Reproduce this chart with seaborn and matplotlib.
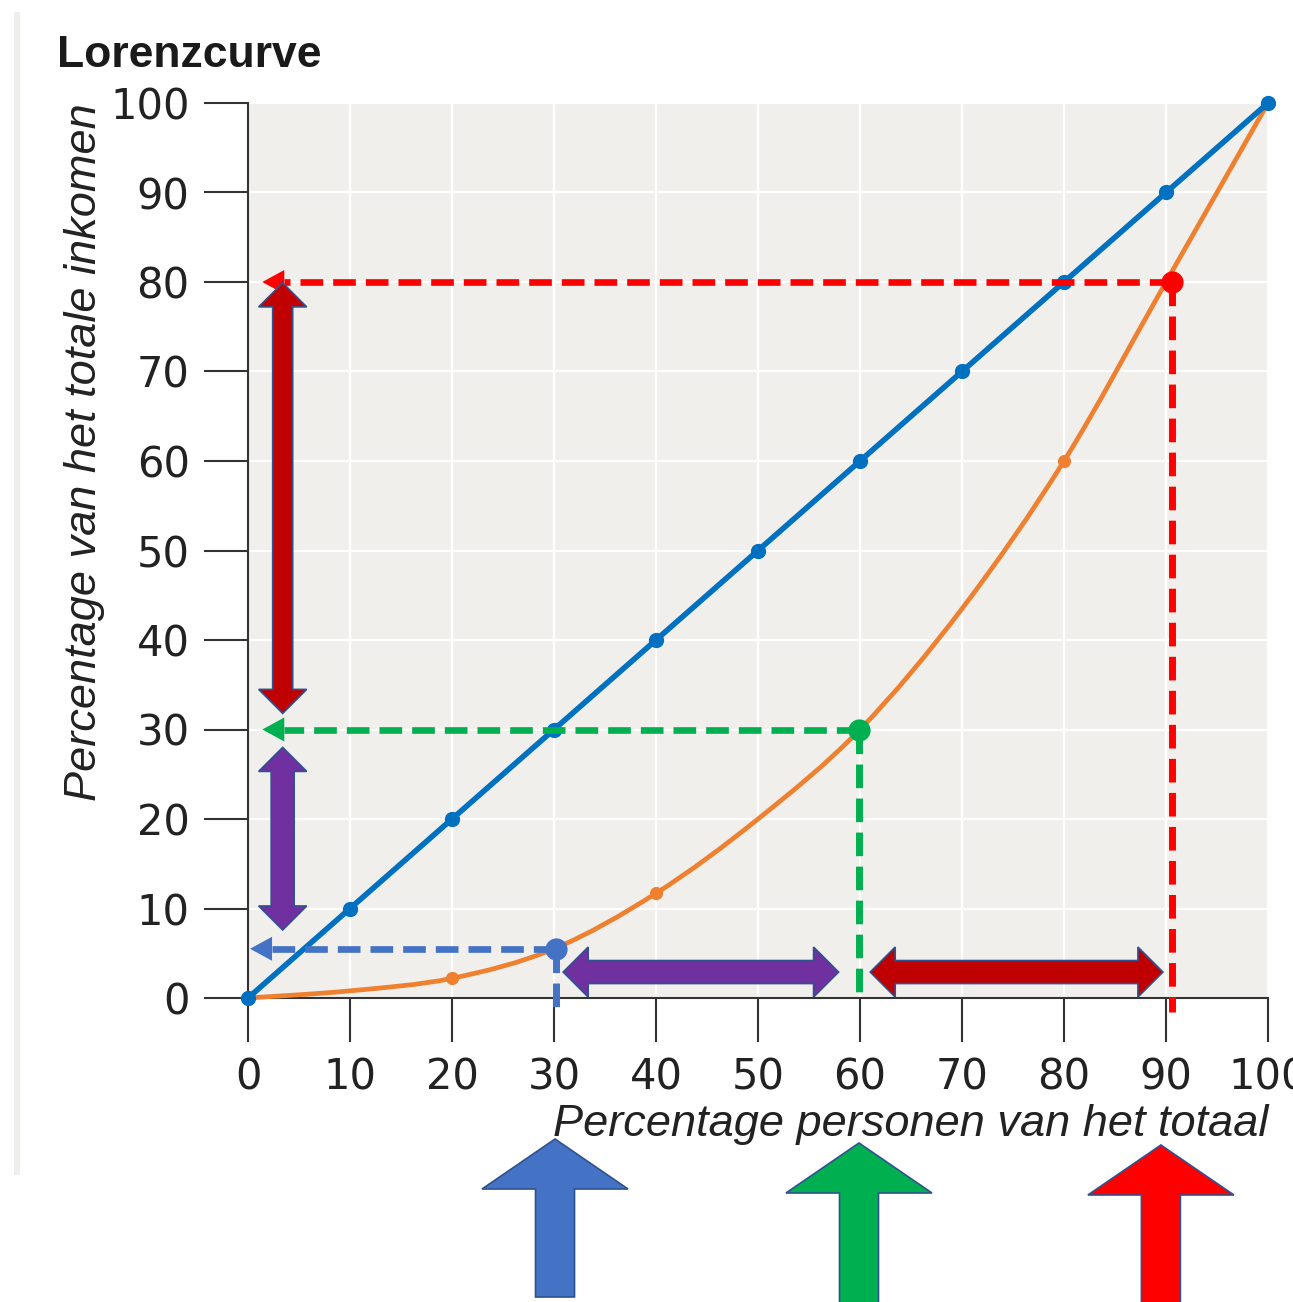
import numpy as np
import pandas as pd
import seaborn as sns
import matplotlib.pyplot as plt
from matplotlib.patches import Polygon, Rectangle, PathPatch
from matplotlib.path import Path

# data
pct_personen = [0, 10, 20, 30, 40, 50, 60, 70, 80, 90, 100]
gelijke_verdeling = [0, 10, 20, 30, 40, 50, 60, 70, 80, 90, 100]
lorenz = [0, 0.8, 2.2, 5.5, 11.7, 20, 30, 43.5, 60, 80, 100]
lorenz_dots_x = [0, 20, 40, 60, 80, 100]
lorenz_dots_y = [0, 2.2, 11.7, 30, 60, 100]

# highlighted points with their dashed guides
punt_x = [30.2, 59.9, 90.6]
punt_y = [5.5, 30, 80]
punt_kleur = ["#4472c4", "#00b050", "#ff0000"]
punt_onder = [-1.7, 0.3, -1.6]     # where the vertical dash stops
punt_links = [0.2, 1.4, 1.4]       # tip of the left arrow
pijl_x = [30.1, 59.9, 89.5]        # big arrows under the chart

ticks = [0, 10, 20, 30, 40, 50, 60, 70, 80, 90, 100]

W, H = 1293, 1302
sns.set_theme(style="white")
plt.rcParams["font.family"] = ["Liberation Sans", "DejaVu Sans"]

fig = plt.figure(figsize=(W / 100, H / 100), dpi=100)
fig.patch.set_facecolor("white")
ax = fig.add_axes([248 / W, 1 - 998 / H, 1020 / W, 895 / H])
ax.set_facecolor("#f0efeb")
ax.set_xlim(0, 100)
ax.set_ylim(0, 100)

ax.grid(True, color="white", lw=1.6)
ax.set_axisbelow(True)
for s in ["top", "right"]:
    ax.spines[s].set_visible(False)
for s in ["left", "bottom"]:
    ax.spines[s].set_color("#333333")
    ax.spines[s].set_linewidth(1.5)
ax.set_xticks(ticks)
ax.set_yticks(ticks)
ax.tick_params(axis="both", length=32, width=1.5, color="#333333", direction="out",
               labelsize=30, labelcolor="#222222", pad=10, left=True, bottom=True)
for lab in ax.get_xticklabels() + ax.get_yticklabels():
    lab.set_fontfamily("DejaVu Sans")

# smoothed Lorenz curve through the read points (Catmull-Rom as bezier)
P = np.column_stack([pct_personen, lorenz]).astype(float)
Pe = np.vstack([P[0], P, P[-1]])
verts = [P[0]]
codes = [Path.MOVETO]
for i in range(len(P) - 1):
    p0, p1, p2, p3 = Pe[i], Pe[i + 1], Pe[i + 2], Pe[i + 3]
    verts += [p1 + (p2 - p0) / 6, p2 - (p3 - p1) / 6, p2]
    codes += [Path.CURVE4] * 3
ax.add_patch(PathPatch(Path(verts, codes), facecolor="none", edgecolor="#ee8030",
                       lw=3.4, clip_on=False, zorder=3))
sns.scatterplot(x=lorenz_dots_x, y=lorenz_dots_y, ax=ax, color="#ee8030", s=90,
                linewidth=0, clip_on=False, zorder=3)

df = pd.DataFrame({"x": pct_personen, "gelijk": gelijke_verdeling})
sns.lineplot(data=df, x="x", y="gelijk", ax=ax, color="#0070c0", lw=4, marker="o",
             markersize=11, markeredgewidth=0, clip_on=False, zorder=4)

ax.set_xlabel("Percentage personen van het totaal", loc="right", fontsize=32.5,
              style="italic", color="#222222", labelpad=4)
ax.set_ylabel("Percentage van het totale inkomen", loc="top", fontsize=32.5,
              style="italic", color="#222222", labelpad=4)


def block_arrow(p0, p1, shaft, head_w, head_l, both=False, **kw):
    # sizes in pixels, ends in data units
    a = ax.transData.transform(p0)
    b = ax.transData.transform(p1)
    d = b - a
    L = np.hypot(*d)
    u = d / L
    n = np.array([-u[1], u[0]])
    sw, hw, hl = shaft / 2, head_w / 2, head_l
    if both:
        pts = [(0, 0), (hl, hw), (hl, sw), (L - hl, sw), (L - hl, hw), (L, 0),
               (L - hl, -hw), (L - hl, -sw), (hl, -sw), (hl, -hw)]
    else:
        pts = [(0, sw), (L - hl, sw), (L - hl, hw), (L, 0), (L - hl, -hw),
               (L - hl, -sw), (0, -sw)]
    pix = np.array([a + s * u + t * n for s, t in pts])
    data = ax.transData.inverted().transform(pix)
    ax.add_patch(Polygon(data, closed=True, clip_on=False, **kw))


dash = (0, (3.4, 1.5))
for px, py, kl, onder, links in zip(punt_x, punt_y, punt_kleur, punt_onder, punt_links):
    basis = links + 22 / 10.2
    ax.plot([px, basis], [py, py], color=kl, lw=4.8, ls=dash, clip_on=False, zorder=5)
    ax.plot([px, px], [py, onder], color=kl, lw=5, ls=dash, clip_on=False, zorder=5)
    block_arrow((basis, py), (links, py), 0, 24, 22, facecolor=kl, edgecolor="none", zorder=5)
    ax.plot([px], [py], "o", color=kl, markersize=16, markeredgewidth=0, clip_on=False, zorder=6)

rand = "#2f528f"
# double arrows inside the plot
block_arrow((3.4, 31.8), (3.4, 79.9), 20, 48, 24, both=True,
            facecolor="#c00000", edgecolor=rand, lw=1.2, zorder=7)
block_arrow((3.4, 7.6), (3.4, 28.0), 23, 48, 24, both=True,
            facecolor="#7030a0", edgecolor=rand, lw=1.2, zorder=7)
block_arrow((30.9, 2.9), (57.9, 2.9), 23, 50, 25, both=True,
            facecolor="#7030a0", edgecolor=rand, lw=1.2, zorder=7)
block_arrow((61.0, 2.9), (89.7, 2.9), 23, 50, 25, both=True,
            facecolor="#c00000", edgecolor=rand, lw=1.2, zorder=7)

# big arrows under the chart
onder_pix = [1297, 1312, 1312]
top_pix = [1139, 1143, 1145]
for px, kl, b, t in zip(pijl_x, punt_kleur, onder_pix, top_pix):
    block_arrow((px, (998 - b) / 8.95), (px, (998 - t) / 8.95), 39, 146, 50,
                facecolor=kl, edgecolor=rand, lw=1.2, zorder=7)

fig.add_artist(Rectangle((14 / W, 1 - 1175 / H), 6 / W, 1163 / H, transform=fig.transFigure,
                         facecolor="#efeeea", edgecolor="none"))
fig.text(57 / W, 1 - 67 / H, "Lorenzcurve", fontsize=32, fontweight="bold",
         color="#1a1a1a", va="baseline", ha="left")

fig.savefig("out.png", dpi=100)
